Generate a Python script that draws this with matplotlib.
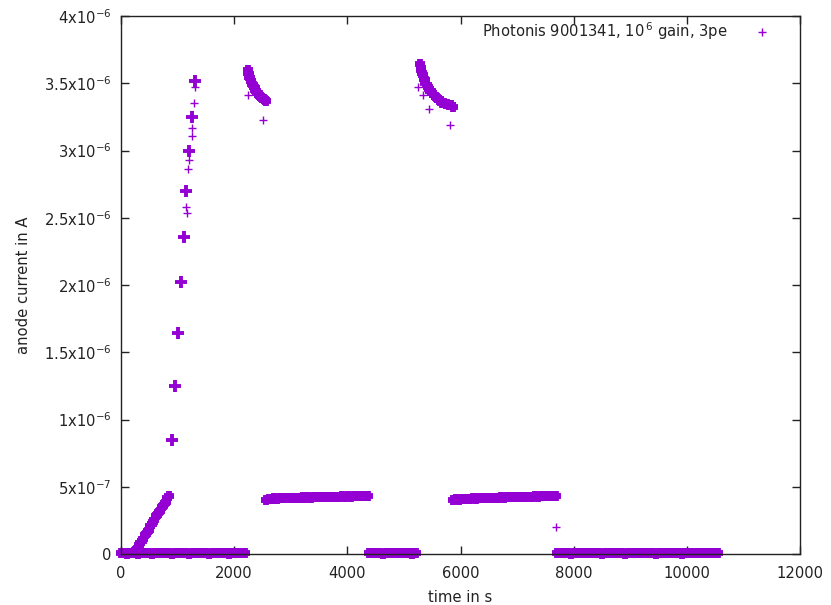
import numpy as np
import matplotlib
matplotlib.use('Agg')
import matplotlib.pyplot as plt
from matplotlib.ticker import FixedLocator, FuncFormatter

plt.rcParams['font.family'] = ['DejaVu Sans']
plt.rcParams['mathtext.default'] = 'regular'

COLOR = '#9400D3'
LEGEND_LABEL = r'Photonis 9001341, 10$^{\,6}$ gain, 3pe'
X_LABEL = 'time in s'
Y_LABEL = 'anode current in A'
X_TICKS = [0, 2000, 4000, 6000, 8000, 10000, 12000]
Y_TICKS_UA = [0, 0.5, 1.0, 1.5, 2.0, 2.5, 3.0, 3.5, 4.0]

# ---- data: time in s, current in microampere (x 1e-6 A) ----
base1_t = [0, 50, 100, 150, 200, 250, 300, 350, 400, 450, 500, 550, 600, 650, 700,
           750, 800, 850, 900, 950, 1000, 1050, 1100, 1150, 1200, 1250, 1300, 1350,
           1400, 1450, 1500, 1550, 1600, 1650, 1700, 1750, 1800, 1850, 1900, 1950,
           2000, 2050, 2100, 2150, 2200]
base1_y = [0.004, 0.008, 0.003, 0.006, 0.010, 0.005, 0.002, 0.007, 0.009, 0.004,
           0.006, 0.003, 0.008, 0.005, 0.010, 0.004, 0.006, 0.009, 0.003, 0.007,
           0.005, 0.008, 0.004, 0.006, 0.003, 0.009, 0.005, 0.007, 0.004, 0.008,
           0.006, 0.003, 0.007, 0.005, 0.009, 0.004, 0.006, 0.008, 0.003, 0.005,
           0.007, 0.004, 0.009, 0.006, 0.004]

ramp_t = [270, 290, 320, 340, 370, 390, 420, 440, 470, 490, 520, 540, 570, 590,
          620, 640, 670, 690, 720, 740, 770, 790, 820, 840]
ramp_y = [0.03, 0.04, 0.07, 0.08, 0.10, 0.11, 0.14, 0.15, 0.17, 0.18, 0.21, 0.22,
          0.24, 0.25, 0.28, 0.29, 0.31, 0.32, 0.35, 0.36, 0.38, 0.39, 0.42, 0.43]

step_t = [906, 954, 1002, 1055, 1108, 1154, 1207, 1260, 1308]
step_y = [0.85, 1.25, 1.64, 2.02, 2.36, 2.70, 3.00, 3.25, 3.52]

trans_t = [1308, 1296, 1250, 1250, 1207, 1190, 1144, 1161]
trans_y = [3.47, 3.35, 3.17, 3.11, 2.93, 2.86, 2.58, 2.535]

decay1_t = [2240, 2250, 2260, 2270, 2280, 2290, 2300, 2315, 2330, 2345, 2360, 2375,
            2390, 2405, 2420, 2440, 2460, 2480, 2500, 2520, 2540, 2555]
decay1_y = [3.60, 3.575, 3.57, 3.545, 3.54, 3.52, 3.515, 3.495, 3.49, 3.47, 3.465,
            3.45, 3.445, 3.43, 3.425, 3.41, 3.405, 3.395, 3.39, 3.38, 3.375, 3.37]
decay1_out_t = [2250, 2515]
decay1_out_y = [3.41, 3.23]

band1_t = [2560, 2610, 2660, 2710, 2760, 2810, 2860, 2910, 2960, 3010, 3060, 3110,
           3160, 3210, 3260, 3310, 3360, 3410, 3460, 3510, 3560, 3610, 3660, 3710,
           3760, 3810, 3860, 3910, 3960, 4010, 4060, 4110, 4160, 4210, 4260, 4310,
           4360]
band1_y = [0.405, 0.410, 0.408, 0.413, 0.411, 0.415, 0.413, 0.417, 0.415, 0.418,
           0.416, 0.420, 0.418, 0.421, 0.419, 0.422, 0.420, 0.423, 0.421, 0.424,
           0.423, 0.425, 0.423, 0.426, 0.425, 0.427, 0.425, 0.428, 0.427, 0.429,
           0.427, 0.430, 0.429, 0.431, 0.429, 0.432, 0.433]

base2_t = [4385, 4435, 4485, 4535, 4585, 4635, 4685, 4735, 4785, 4835, 4885, 4935,
           4985, 5035, 5085, 5135, 5185, 5212]
base2_y = [0.005, 0.008, 0.004, 0.007, 0.009, 0.003, 0.006, 0.008, 0.004, 0.007,
           0.005, 0.009, 0.004, 0.006, 0.008, 0.003, 0.006, 0.005]

decay2_t = [5290, 5300, 5310, 5320, 5335, 5350, 5365, 5380, 5400, 5420, 5440, 5460,
            5480, 5500, 5530, 5560, 5590, 5620, 5650, 5680, 5710, 5740, 5770, 5800,
            5830, 5860]
decay2_y = [3.64, 3.615, 3.60, 3.575, 3.56, 3.535, 3.525, 3.505, 3.49, 3.47, 3.46,
            3.445, 3.44, 3.425, 3.415, 3.395, 3.39, 3.375, 3.37, 3.355, 3.355, 3.345,
            3.345, 3.335, 3.335, 3.325]
decay2_out_t = [5255, 5333, 5444, 5815]
decay2_out_y = [3.47, 3.41, 3.31, 3.19]

band2_t = [5868, 5918, 5968, 6018, 6068, 6118, 6168, 6218, 6268, 6318, 6368, 6418,
           6468, 6518, 6568, 6618, 6668, 6718, 6768, 6818, 6868, 6918, 6968, 7018,
           7068, 7118, 7168, 7218, 7268, 7318, 7368, 7418, 7468, 7518, 7568, 7618,
           7668, 7688]
band2_y = [0.400, 0.406, 0.404, 0.409, 0.408, 0.412, 0.410, 0.414, 0.412, 0.416,
           0.414, 0.417, 0.416, 0.419, 0.417, 0.420, 0.419, 0.422, 0.420, 0.423,
           0.421, 0.424, 0.423, 0.425, 0.424, 0.426, 0.425, 0.427, 0.426, 0.428,
           0.427, 0.429, 0.428, 0.430, 0.429, 0.431, 0.432, 0.433]

drop_t = [7683]
drop_y = [0.20]

base3_t = [7706, 7756, 7806, 7856, 7906, 7956, 8006, 8056, 8106, 8156, 8206, 8256,
           8306, 8356, 8406, 8456, 8506, 8556, 8606, 8656, 8706, 8756, 8806, 8856,
           8906, 8956, 9006, 9056, 9106, 9156, 9206, 9256, 9306, 9356, 9406, 9456,
           9506, 9556, 9606, 9656, 9706, 9756, 9806, 9856, 9906, 9956, 10006, 10056,
           10106, 10156, 10206, 10256, 10306, 10356, 10406, 10456, 10506, 10551]
base3_y = [0.006, 0.004, 0.008, 0.005, 0.009, 0.003, 0.007, 0.005, 0.008, 0.004,
           0.006, 0.010, 0.004, 0.007, 0.005, 0.008, 0.003, 0.006, 0.009, 0.005,
           0.007, 0.004, 0.008, 0.006, 0.003, 0.009, 0.005, 0.007, 0.004, 0.008,
           0.006, 0.010, 0.004, 0.006, 0.008, 0.003, 0.007, 0.005, 0.009, 0.004,
           0.006, 0.008, 0.005, 0.007, 0.003, 0.009, 0.006, 0.004, 0.008, 0.005,
           0.007, 0.004, 0.009, 0.006, 0.005, 0.008, 0.004, 0.006]

UA = 1e-6

fig = plt.figure(figsize=(8.31, 6.05), dpi=100)
ax = fig.add_axes([121 / 831, 1 - 554 / 605, 679 / 831, 538 / 605])

thin = dict(ls='none', marker='+', color=COLOR, ms=6, mew=1.0, clip_on=False, zorder=2)
dense = dict(ls='none', marker='+', color=COLOR, ms=7.2, mew=4.2, clip_on=False, zorder=2)
thick = dict(ls='none', marker='+', color=COLOR, ms=8.5, mew=2.8, clip_on=False, zorder=2)

series_thin = [
    (trans_t, trans_y), (decay1_out_t, decay1_out_y),
    (decay2_out_t, decay2_out_y), (drop_t, drop_y),
]
series_dense = [
    (base1_t, base1_y), (ramp_t, ramp_y), (decay1_t, decay1_y),
    (band1_t, band1_y), (base2_t, base2_y), (decay2_t, decay2_y),
    (band2_t, band2_y), (base3_t, base3_y),
]
for t, y in series_thin:
    ax.plot(t, np.asarray(y) * UA, **thin)
for t, y in series_dense:
    ax.plot(t, np.asarray(y) * UA, **dense)
ax.plot(step_t, np.asarray(step_y) * UA, **thick)

# legend handle
ax.plot([], [], label=LEGEND_LABEL, **thin)

ax.set_xlim(0, 12000)
ax.set_ylim(0, 4e-6)
ax.xaxis.set_major_locator(FixedLocator(X_TICKS))
ax.yaxis.set_major_locator(FixedLocator([v * UA for v in Y_TICKS_UA]))


def yfmt(v, pos):
    if abs(v) < 1e-12:
        return '0'
    m = v / 1e-6
    e = -6
    if m < 1 - 1e-9:
        m *= 10
        e = -7
    return '%gx10$^{%d}$' % (round(m, 3), e)


ax.yaxis.set_major_formatter(FuncFormatter(yfmt))
ax.xaxis.set_major_formatter(FuncFormatter(lambda v, p: '%d' % v))

ax.tick_params(direction='in', length=5.5, width=1, top=True, right=True,
               labelsize=10.6, colors='#222222', labelcolor='#222222')
ax.tick_params(axis='x', pad=8.5)
ax.tick_params(axis='y', pad=7)
for s in ax.spines.values():
    s.set_linewidth(1.0)
    s.set_color('#222222')
    s.set_zorder(3)

ax.set_xlabel(X_LABEL, fontsize=10.6, color='#222222', va='center')
ax.xaxis.set_label_coords(0.5, (554 - 598) / 538)
ax.set_ylabel(Y_LABEL, fontsize=10.6, color='#222222', va='center', ha='center')
ax.yaxis.set_label_coords((23 - 121) / 679, 0.5)

ax.legend(loc='upper right', bbox_to_anchor=((780.4 - 121) / 679, 1 - (20.5 - 16) / 538),
          frameon=False, markerfirst=False, handlelength=2.5, handletextpad=1.06,
          borderaxespad=0, borderpad=0, fontsize=10.6, labelcolor='#222222')

fig.savefig('out.png', dpi=100)
